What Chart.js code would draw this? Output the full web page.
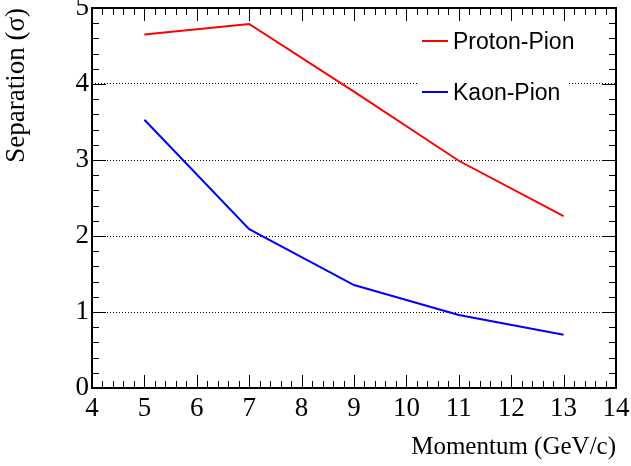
<!DOCTYPE html>
<html lang="en">
<head>
    <meta charset="UTF-8">
    <title>Separation vs Momentum</title>
    <style>
        body {
            margin: 0;
            background: #ffffff;
        }
        .wrap {
            width: 631px;
            height: 466px;
        }
    </style>
    <script src="https://cdn.jsdelivr.net/npm/chart.js"></script>
</head>
<body>
    <div class="wrap">
        <canvas id="sepChart" width="631" height="466"></canvas>
    </div>

    <script>
        // Data
        const momentum = [5, 7, 9, 11, 13];
        const protonPion = [4.65, 4.79, 3.90, 2.99, 2.26];
        const kaonPion = [3.53, 2.09, 1.355, 0.96, 0.70];
        const xTickValues = [4, 5, 6, 7, 8, 9, 10, 11, 12, 13, 14];
        const yTickValues = [0, 1, 2, 3, 4, 5];

        const serif = "'Liberation Serif', 'DejaVu Serif', serif";
        const sans = "'Liberation Sans', Arial, sans-serif";

        // ROOT style frame with inward ticks on all four sides
        const frameTicks = {
            id: 'frameTicks',
            afterDraw(chart) {
                const ctx = chart.ctx;
                const a = chart.chartArea;
                const xs = chart.scales.x;
                const ys = chart.scales.y;
                ctx.save();
                ctx.strokeStyle = '#000';
                ctx.lineWidth = 1;
                ctx.beginPath();
                for (let i = 0; i <= 50; i++) {
                    const v = 4 + i * 0.2;
                    const len = i % 5 === 0 ? 13 : 7;
                    const px = Math.round(xs.getPixelForValue(v)) + 0.5;
                    ctx.moveTo(px, a.bottom);
                    ctx.lineTo(px, a.bottom - len);
                    ctx.moveTo(px, a.top);
                    ctx.lineTo(px, a.top + len);
                }
                for (let i = 0; i <= 25; i++) {
                    const v = i * 0.2;
                    const len = i % 5 === 0 ? 14 : 7;
                    const py = Math.round(ys.getPixelForValue(v)) + 0.5;
                    ctx.moveTo(a.left, py);
                    ctx.lineTo(a.left + len, py);
                    ctx.moveTo(a.right, py);
                    ctx.lineTo(a.right - len, py);
                }
                ctx.stroke();
                ctx.lineWidth = 2;
                ctx.strokeRect(a.left, a.top, a.right - a.left, a.bottom - a.top);
                ctx.restore();
            }
        };

        // legend box placed inside the frame like the original
        const boxLegend = {
            id: 'boxLegend',
            afterDatasetsDraw(chart) {
                const ctx = chart.ctx;
                ctx.save();
                ctx.fillStyle = '#fff';
                ctx.fillRect(417, 18, 150, 100);
                const rows = [41, 92];
                chart.data.datasets.forEach((ds, i) => {
                    const y = rows[i];
                    ctx.strokeStyle = ds.borderColor;
                    ctx.lineWidth = 2;
                    ctx.beginPath();
                    ctx.moveTo(422, y);
                    ctx.lineTo(448, y);
                    ctx.stroke();
                    ctx.fillStyle = '#000';
                    ctx.font = '23px ' + sans;
                    ctx.textBaseline = 'middle';
                    ctx.fillText(ds.label, 453, y + 2);
                });
                ctx.restore();
            }
        };

        const ctx = document.getElementById('sepChart').getContext('2d');
        new Chart(ctx, {
            type: 'line',
            data: {
                labels: momentum,
                datasets: [
                    {
                        label: 'Proton-Pion',
                        data: momentum.map((m, i) => ({ x: m, y: protonPion[i] })),
                        borderColor: '#ff0000',
                        borderWidth: 2,
                        pointRadius: 0,
                        tension: 0,
                        fill: false
                    },
                    {
                        label: 'Kaon-Pion',
                        data: momentum.map((m, i) => ({ x: m, y: kaonPion[i] })),
                        borderColor: '#0000ff',
                        borderWidth: 2,
                        pointRadius: 0,
                        tension: 0,
                        fill: false
                    }
                ]
            },
            options: {
                responsive: false,
                animation: false,
                layout: {
                    padding: { left: 0, right: 15, top: 8, bottom: 0 }
                },
                plugins: {
                    legend: { display: false },
                    tooltip: { enabled: false }
                },
                scales: {
                    x: {
                        type: 'linear',
                        min: 4,
                        max: 14,
                        afterBuildTicks(scale) {
                            scale.ticks = xTickValues.map(v => ({ value: v }));
                        },
                        afterFit(scale) {
                            scale.height = 78;
                            scale.paddingLeft = 0;
                            scale.paddingRight = 0;
                        },
                        border: { display: false },
                        grid: { display: false, drawTicks: false },
                        ticks: {
                            color: '#000',
                            padding: 5,
                            maxRotation: 0,
                            autoSkip: false,
                            font: { family: serif, size: 27 }
                        },
                        title: {
                            display: true,
                            text: 'Momentum (GeV/c)',
                            align: 'end',
                            color: '#000',
                            padding: { top: 0, bottom: 4 },
                            font: { family: serif, size: 25 }
                        }
                    },
                    y: {
                        type: 'linear',
                        min: 0,
                        max: 5,
                        afterBuildTicks(scale) {
                            scale.ticks = yTickValues.map(v => ({ value: v }));
                        },
                        afterFit(scale) {
                            scale.width = 92;
                            scale.paddingTop = 0;
                            scale.paddingBottom = 0;
                        },
                        border: { display: false, dash: [1, 2] },
                        grid: {
                            drawTicks: false,
                            lineWidth: 1,
                            color: c => (c.tick && c.tick.value > 0 && c.tick.value < 5) ? '#000' : 'rgba(0,0,0,0)'
                        },
                        ticks: {
                            color: '#000',
                            padding: 3,
                            autoSkip: false,
                            font: { family: serif, size: 27 }
                        },
                        title: {
                            display: true,
                            text: 'Separation (\u03c3)',
                            align: 'end',
                            color: '#000',
                            padding: { top: 1, bottom: 0 },
                            font: { family: serif, size: 27 }
                        }
                    }
                }
            },
            plugins: [frameTicks, boxLegend]
        });
    </script>
</body>
</html>
